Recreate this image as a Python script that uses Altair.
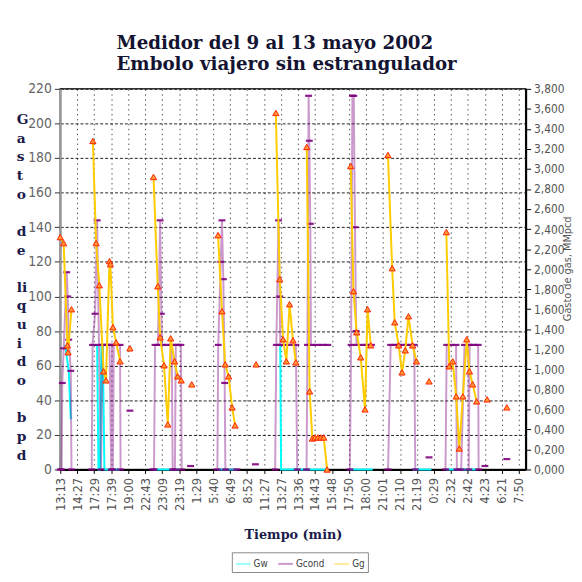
import altair as alt
import pandas as pd

# ---------------- data ----------------
times = ["13:13", "14:27", "17:29", "17:39", "19:00", "22:43", "23:09", "23:19",
         "1:29", "5:40", "6:49", "8:52", "11:27", "13:27", "13:36", "14:43",
         "15:48", "17:50", "18:00", "21:01", "21:10", "21:19", "0:29", "2:32",
         "2:42", "4:23", "6:21", "7:50"]
x_ticks = list(range(28))
left_ticks = [0, 20, 40, 60, 80, 100, 120, 140, 160, 180, 200, 220]
right_ticks = [0.0, 0.2, 0.4, 0.6, 0.8, 1.0, 1.2, 1.4, 1.6, 1.8, 2.0,
               2.2, 2.4, 2.6, 2.8, 3.0, 3.2, 3.4, 3.6, 3.8]

# Gg (gas, MMpcd) - right axis
gg_x = [0.00, 0.20, 0.42, 0.46, 0.66,
        1.92, 2.11, 2.30, 2.55, 2.69, 2.90, 2.95, 3.10, 3.29, 3.52,
        4.10,
        5.49, 5.74, 5.88, 6.11, 6.33, 6.50, 6.73, 6.91, 7.12,
        7.74,
        9.29, 9.52, 9.71, 9.91, 10.12, 10.29,
        11.53,
        12.69, 12.92, 13.12, 13.31, 13.50, 13.70, 13.87,
        14.51, 14.68, 14.84, 15.00, 15.17, 15.34, 15.51, 15.71,
        17.10, 17.26, 17.45, 17.69, 17.94, 18.09, 18.28,
        19.29, 19.54, 19.69, 19.92, 20.12, 20.31, 20.50, 20.74, 20.97,
        21.71,
        22.73, 22.90, 23.10, 23.31, 23.49, 23.70, 23.93, 24.09, 24.28, 24.51,
        25.13,
        26.29]
gg_v = [2.32, 2.26, 1.24, 1.17, 1.60,
        3.28, 2.26, 1.84, 0.98, 0.89, 2.08, 2.05, 1.42, 1.27, 1.08,
        1.21,
        2.92, 1.83, 1.32, 1.04, 0.45, 1.31, 1.08, 0.93, 0.89,
        0.85,
        2.34, 1.58, 1.05, 0.93, 0.62, 0.44,
        1.05,
        3.56, 1.90, 1.30, 1.08, 1.65, 1.29, 1.07,
        3.22, 0.78, 0.31, 0.32, 0.32, 0.32, 0.32, 0.00,
        3.03, 1.78, 1.37, 1.12, 0.60, 1.60, 1.24,
        3.14, 2.01, 1.47, 1.24, 0.97, 1.19, 1.53, 1.24, 1.08,
        0.88,
        2.37, 1.03, 1.08, 0.73, 0.21, 0.73, 1.30, 0.98, 0.85, 0.68,
        0.70,
        0.62]
gg_len = [5, 10, 1, 9, 1, 6, 1, 7, 8, 7, 9, 1, 10, 1, 1]

# Gcond (condensado, bpd) - left axis
gc_x = [0.00, 0.08, 0.12, 0.20, 0.38, 0.44, 0.50, 0.62, 0.66,
        1.85, 1.90, 2.05, 2.17, 2.28, 2.40, 2.50, 2.60, 2.75, 2.90, 3.00, 3.05, 3.10, 3.15, 3.30, 3.52, 3.55,
        4.10,
        5.45, 5.52, 5.58, 5.75, 5.88, 5.95, 6.00, 6.30, 6.56, 6.62, 6.75, 6.80, 6.95, 7.10, 7.15,
        7.67,
        9.25, 9.30, 9.45, 9.52, 9.60, 9.68, 9.72, 10.40,
        11.49,
        12.65, 12.72, 12.85, 12.92, 12.95, 13.30, 13.60, 13.87, 13.95,
        14.50, 14.55, 14.62, 14.66, 14.72, 14.76, 15.10, 15.45, 15.75,
        17.05, 17.12, 17.20, 17.28, 17.35, 17.42, 17.45, 17.80, 18.05, 18.32,
        19.30, 19.45, 19.70, 19.90, 20.15, 20.40, 20.62, 20.84, 20.90,
        21.71,
        22.68, 22.75, 23.00, 23.30, 23.35, 23.60, 23.80, 24.03, 24.05, 24.10, 24.35, 24.60, 24.63,
        25.00,
        26.29]
gc_v = [0, 0, 50, 70, 114, 100, 75, 57, 0,
        0, 72, 90, 144, 72, 0, 72, 72, 72, 72, 0, 72, 0, 72, 72, 72, 0,
        34,
        0, 0, 72, 72, 144, 90, 72, 72, 72, 0, 0, 72, 72, 72, 0,
        2,
        0, 72, 120, 144, 110, 50, 0, 0,
        3,
        0, 72, 144, 100, 72, 72, 72, 72, 0,
        0, 72, 216, 190, 142, 72, 72, 72, 72,
        0, 72, 216, 216, 140, 80, 72, 72, 72, 72,
        0, 72, 72, 72, 72, 72, 72, 72, 0,
        7,
        0, 72, 72, 72, 0, 0, 72, 72, 0, 72, 72, 72, 0,
        2,
        6]
gc_len = [9, 17, 1, 15, 1, 8, 1, 9, 9, 10, 9, 1, 13, 1, 1]

# Gw (agua, bpd) - left axis
gw_x = [0.28, 0.33, 0.50, 0.62,
        2.00, 2.17, 2.25, 2.35, 2.42, 2.50, 2.60, 2.70, 3.52,
        5.45, 7.00,
        9.25, 10.40,
        12.80, 12.95, 13.00, 15.75,
        17.05, 18.40,
        20.75, 21.85,
        22.68, 24.50]
gw_v = [72, 69, 57, 29,
        72, 72, 0, 0, 72, 72, 0, 0, 0,
        0, 0,
        0, 0,
        72, 72, 0, 0,
        0, 0,
        0, 0,
        0, 0]
gw_len = [4, 9, 2, 2, 4, 2, 2, 2]

# stacked left-axis title, one entry per text line ("" = blank line)
left_title = ["G", "a", "s", "t", "o", "", "d", "e", "", "li", "q", "u", "i", "d", "o", "", "b", "p", "d"]


def frame(xs, vs, lens, name):
    seg = []
    for i, n in enumerate(lens):
        seg += [i] * n
    return pd.DataFrame({"x": xs, "v": vs, "seg": seg, "serie": name})


gg = frame(gg_x, gg_v, gg_len, "Gg")
gc = frame(gc_x, gc_v, gc_len, "Gcond")
gw = frame(gw_x, gw_v, gw_len, "Gw")
title_df = pd.DataFrame({"letter": left_title, "line": list(range(len(left_title)))})
title_df = title_df[title_df["letter"] != ""]

# ---------------- encodings ----------------
label_list = "[" + ",".join("'%s'" % t for t in times) + "]"
narrow = "Liberation Sans Narrow, DejaVu Sans Condensed, Arial Narrow, sans-serif"
serif = "DejaVu Serif, Liberation Serif, serif"

x_enc = alt.X(
    "x:Q",
    scale=alt.Scale(domain=[0, 27.4], nice=False, zero=False),
    axis=alt.Axis(
        values=x_ticks, labelExpr=label_list + "[datum.value]",
        labelAngle=-90, labelFont=narrow, labelFontSize=13, labelColor="#555555",
        labelPadding=4, tickSize=4, tickColor="#000000",
        domainColor="#000000", domainWidth=2,
        grid=True, gridColor="#555555", gridDash=[1.5, 3.5], gridWidth=1,
        title="Tiempo (min)", titleFont=serif, titleFontSize=13, titleFontWeight="bold",
        titleColor="#1B1B4B", titleY=60, titleBaseline="top",
    ),
)

color_enc = alt.Color(
    "serie:N",
    scale=alt.Scale(domain=["Gw", "Gcond", "Gg"], range=["#00FFFF", "#800080", "#FFCC00"]),
    legend=alt.Legend(
        title=None, orient="none", legendX=174, legendY=470, direction="horizontal",
        symbolType="stroke", symbolStrokeWidth=2, symbolSize=220,
        labelFont=narrow, labelFontSize=10, labelColor="#444444",
        strokeColor="#888888", padding=3, columnPadding=6, labelOffset=2,
    ),
)

y_left = alt.Y(
    "v:Q",
    scale=alt.Scale(domain=[0, 220], nice=False),
    axis=alt.Axis(
        orient="left", values=left_ticks, labelFont=narrow, labelFontSize=14,
        labelColor="#666666", labelPadding=3, tickSize=6, tickColor="#333333",
        domainColor="#999999", domainWidth=2,
        grid=True, gridColor="#222222", gridDash=[3, 2], gridWidth=1,
        title=None,
    ),
)

y_right = alt.Y(
    "v:Q",
    scale=alt.Scale(domain=[0, 3.8], nice=False),
    axis=alt.Axis(
        orient="right", values=right_ticks,
        labelExpr="replace(format(datum.value, '.3f'), '.', ',')",
        labelFont=narrow, labelFontSize=12, labelColor="#555555", labelPadding=3,
        tickSize=5, tickColor="#000000", domainColor="#000000", domainWidth=2, grid=False,
        title="Gasto de gas, MMpcd", titleFont=narrow, titleFontSize=11,
        titleFontWeight="normal", titleColor="#555555", titleAngle=270,
        titleX=42, titleY=182, titleAlign="center", titleBaseline="middle",
    ),
)

gw_line = alt.Chart(gw).mark_line(strokeWidth=2).encode(
    x=x_enc, y=y_left, color=color_enc, detail="seg:N")
gc_line = alt.Chart(gc).mark_line(strokeWidth=2, opacity=0.4).encode(
    x=x_enc, y=y_left, color=color_enc, detail="seg:N")
gc_ticks = alt.Chart(gc).mark_tick(orient="horizontal", size=7, thickness=2.2,
                                   color="#800080", opacity=0.9).encode(
    x=x_enc, y=y_left)

gg_line = alt.Chart(gg).mark_line(strokeWidth=2).encode(
    x=x_enc, y=y_right, color=color_enc, detail="seg:N")
gg_pts = alt.Chart(gg).mark_point(shape="triangle-up", filled=True, size=40, fill="#FF9933",
                                  stroke="#FF2200", strokeWidth=1, opacity=1).encode(
    x=x_enc, y=y_right)

# stacked y-axis title: one text per line, placed in pixels (scale=None)
ytitle = alt.Chart(title_df).transform_calculate(
    py="31.7 + datum.line * 18.9"
).mark_text(
    align="left", baseline="middle", font=serif, fontSize=14,
    fontWeight="bold", color="#1B1B4B").encode(
    x=alt.value(-44), y=alt.Y("py:Q", scale=None, axis=None), text="letter:N")

left = alt.layer(gw_line, gc_line, gc_ticks)
right = alt.layer(gg_line, gg_pts)

chart = alt.layer(left, right, ytitle).resolve_scale(y="independent").properties(
    width=472, height=386,
    padding={"left": 53, "top": 78, "right": 49, "bottom": 102},
    autosize=alt.AutoSizeParams(type="none"),
    title=alt.TitleParams(
        text=["Medidor del 9 al 13 mayo 2002", "Embolo viajero sin estrangulador"],
        anchor="start", frame="group", dx=57, font=serif, fontSize=18.5, fontWeight="bold",
        color="#141432", lineHeight=20.5, offset=9,
    ),
).configure_view(stroke="#333333", strokeWidth=1.5)

chart.save("out.html", embed_options={"renderer": "svg", "actions": False})
